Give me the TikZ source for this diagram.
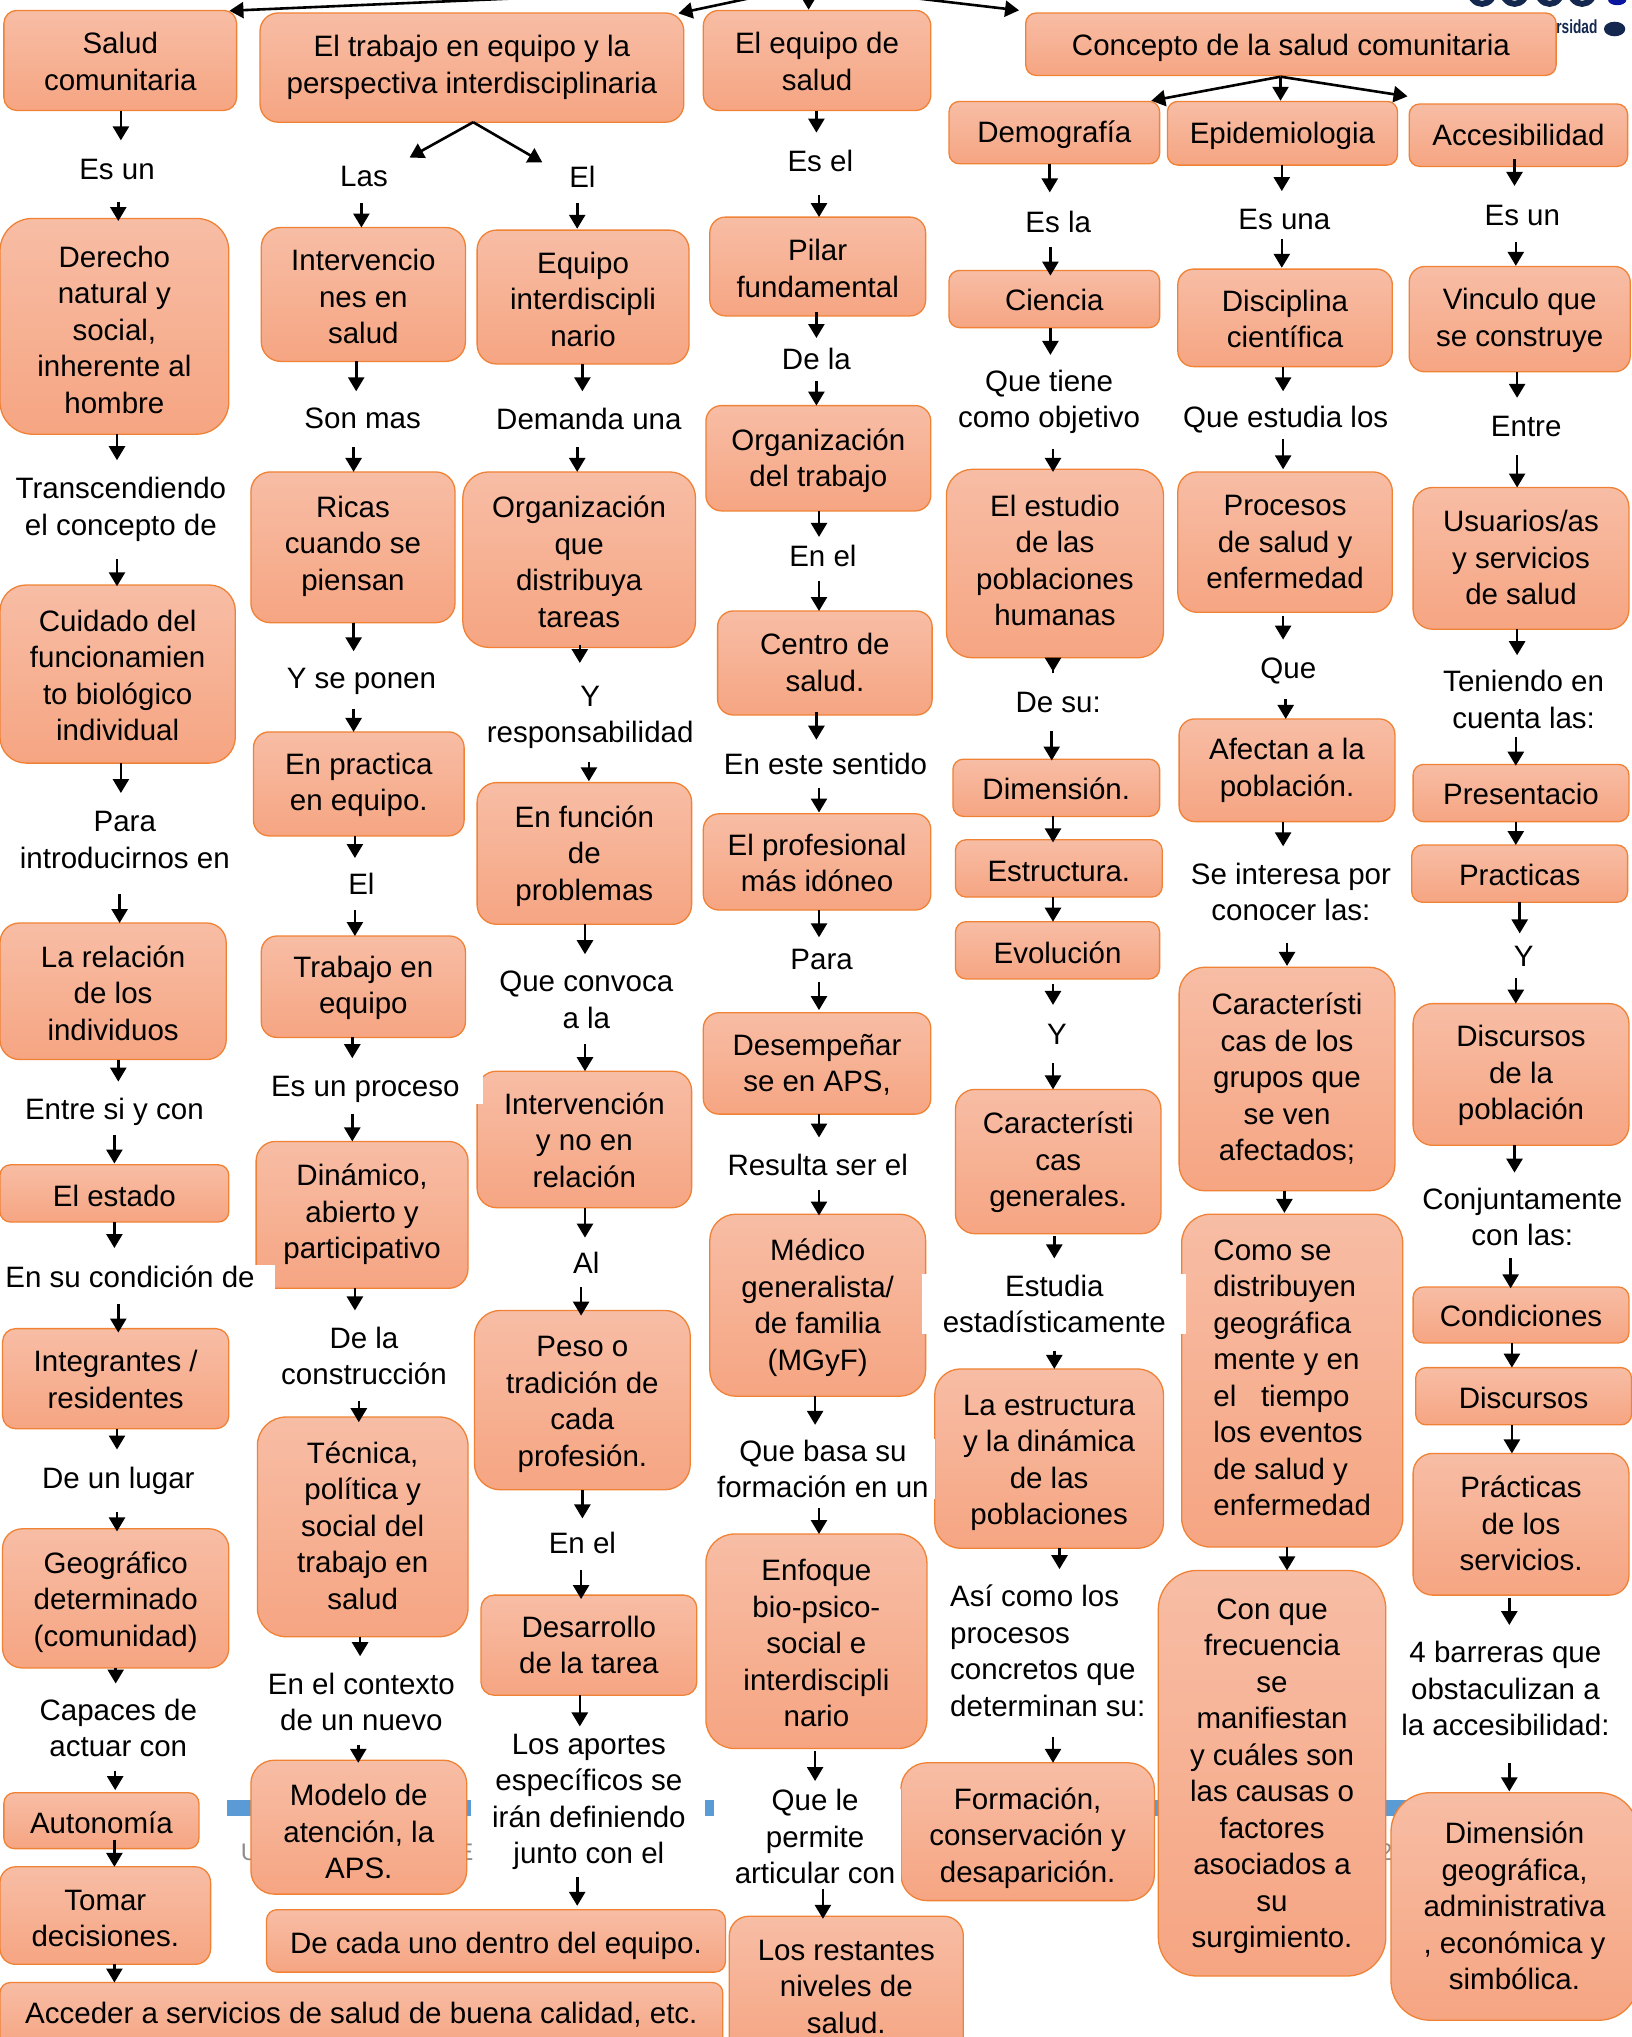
\documentclass[tikz,border=0pt]{standalone}
\usepackage{fontspec}
\setmainfont{Liberation Sans}
\usetikzlibrary{arrows.meta,calc}
\definecolor{boxtop}{HTML}{F7BDA5}
\definecolor{boxbot}{HTML}{F6A582}
\definecolor{boxline}{HTML}{F08236}
\definecolor{barblue}{HTML}{5B9BD5}
\definecolor{navy}{HTML}{14284F}
\newcommand\mainfs{\fontsize{29.5bp}{36.5bp}\selectfont}
\newcount\nlines
\tikzset{
 tdy/.code={\pgfmathsetmacro\tht{\HHt+2.6*max(#1,0)}\pgfmathsetmacro\tdp{6.5+2.6*max(-(#1),0)}\tikzset{text height=\tht bp,text depth=\tdp bp}},
 boxst/.style={draw=boxline,line width=1.3bp,top color=boxtop,bottom color=boxbot,inner sep=0pt,align=center,font=\mainfs,text=black,tdy=0},
 lblst/.style={fill=white,inner xsep=6bp,inner ysep=1bp,align=center,font=\mainfs,text=black},
 arr/.style={draw=black,line width=2.6bp,-{Triangle[length=14bp,width=16bp]}}
}
% box: name,x1,y1,x2,y2,radius,text
\newcommand\bx[8][]{%
 \global\nlines=1 \setbox0=\hbox{\def\\{\global\advance\nlines by 1 }#8}%
 \pgfmathsetmacro\HHt{(\the\nlines-1)*36.5+21.5}%
 \pgfmathsetmacro\cxx{(#3+#5)/2}\pgfmathsetmacro\cyy{(#4+#6)/2}%
 \pgfmathsetmacro\wwd{(#5-#3)*1.3}\pgfmathsetmacro\hhd{(#6-#4)*1.3}\pgfmathsetmacro\rrd{#7*1.3}%
 \node[boxst,rounded corners=\rrd bp,minimum width=\wwd bp,minimum height=\hhd bp,#1] (#2) at (\cxx,\cyy) {#8};}
\newcommand\lbl[5][]{\node[lblst,#1] (#2) at (#3,#4) {#5};}
% arrow from node a south to node b north along x, between y1 and y2
\newcommand\arw[5]{%
 \pgfpointanchor{#1}{south}\pgfgetlastxy{\xaa}{\yaa}%
 \pgfpointanchor{#2}{north}\pgfgetlastxy{\xbb}{\ybb}%
 \pgfmathsetmacro\sA{\yaa+#4*1.3*1.00375}%
 \pgfmathsetmacro\sB{-#5*1.3*1.00375-\ybb}%
 \draw[arr,shorten <=\sA pt,shorten >=\sB pt] (#1.south -| #3,0) -- (#2.north -| #3,0);}
\begin{document}
\begin{tikzpicture}[x=1.3bp,y=-1.3bp]
\useasboundingbox (0,0) rectangle (1255.38,1566.92);
\fill[white] (0,0) rectangle (1255.38,1566.92);
% background remnants
\fill[barblue] (174.6,1384.6) rectangle (362,1397);
\fill[barblue] (542,1384.6) rectangle (549,1397);
\fill[barblue] (888,1384.6) rectangle (896,1397);
\fill[barblue] (1066,1384.6) rectangle (1112,1397);
\node[text=black!45,font=\fontsize{24bp}{28bp}\selectfont,inner sep=0pt] (bgu) at (192,1425) {U};
\node[text=black!45,font=\fontsize{24bp}{28bp}\selectfont,inner sep=0pt] (bge) at (358,1425) {E};
\node[text=black!45,font=\fontsize{24bp}{28bp}\selectfont,inner sep=0pt] (bgd) at (1066,1425) {2};
% logo remnants
\foreach \lx in {1140,1165,1192,1217}{\draw[navy,line width=6bp] (\lx,-9) ellipse (10 and 12);}
\fill[blue!45!navy] (1244,0) ellipse (7 and 4);
\node[text=navy,font=\bfseries\fontsize{19bp}{22bp}\selectfont,inner sep=0pt,xscale=.72] (rsid) at (1213,20.5) {rsidad};
\fill[navy] (1242,22.3) ellipse (8.2 and 5.6);
% column 1
\bx[tdy=3]{salud}{3}{8}{182}{85}{10}{Salud\\comunitaria}
\bx[tdy=5]{derecho}{0}{168}{176}{334}{25}{Derecho\\natural y\\social,\\inherente al\\hombre}
\bx[tdy=3.5]{cuidado}{0}{450}{181}{587}{20}{Cuidado del\\funcionamien\\to biológico\\individual}
\bx[tdy=4]{relacion}{0}{710}{174}{815}{15}{La relación\\de los\\individuos}
\bx[tdy=4]{estado}{0}{896}{176}{940}{8}{El estado}
\bx[tdy=3]{integr}{2}{1022}{176}{1099}{10}{Integrantes /\\residentes}
\bx[tdy=3]{geogr}{2}{1176}{176}{1283}{15}{Geográfico\\determinado\\(comunidad)}
\bx[tdy=4]{autono}{3}{1379}{153}{1422}{8}{Autonomía}
\bx[tdy=4]{tomar}{0}{1436}{162}{1511}{12}{Tomar\\decisiones.}
\bx[tdy=1]{acceder}{0}{1525}{556}{1575}{8}{Acceder a servicios de salud de buena calidad, etc.}
% column 2
\bx{trabajo}{200}{10}{526}{94}{14}{El trabajo en equipo y la\\perspectiva interdisciplinaria}
\bx[tdy=4]{interv}{201}{175}{358}{278}{15}{Intervencio\\nes en\\salud}
\bx[tdy=4]{eqint}{367}{177}{530}{280}{15}{Equipo\\interdiscipli\\nario}
\bx[tdy=-1]{ricas}{193}{363}{350}{479}{15}{Ricas\\cuando se\\piensan}
\bx[tdy=4]{orgtar}{356}{363}{535}{498}{20}{Organización\\que\\distribuya\\tareas}
\bx[tdy=1]{practica}{195}{563}{357}{643}{12}{En practica\\en equipo.}
\bx[tdy=2]{funcion}{367}{602}{532}{711}{15}{En función\\de\\problemas}
\bx[tdy=1]{trabeq}{201}{720}{358}{798}{12}{Trabajo en\\equipo}
\bx[tdy=3]{intrel}{367}{824}{532}{929}{15}{Intervención\\y no en\\relación}
\bx{dinam}{197}{878}{360}{991}{15}{Dinámico,\\abierto y\\participativo}
\bx[tdy=1.5]{tecnica}{198}{1090}{360}{1259}{22}{Técnica,\\política y\\social del\\trabajo en\\salud}
\bx[tdy=6]{modelo}{193}{1354}{359}{1457}{18}{Modelo de\\atención, la\\APS.}
\bx[tdy=3]{peso}{365}{1008}{531}{1146}{20}{Peso o\\tradición de\\cada\\profesión.}
\bx[tdy=2]{desarr}{370}{1227}{536}{1304}{10}{Desarrollo\\de la tarea}
\bx[tdy=4]{decada}{205}{1469}{558}{1517}{8}{De cada uno dentro del equipo.}
% column 3
\bx[tdy=3]{eqsalud}{541}{8}{716}{85}{12}{El equipo de\\salud}
\bx[tdy=4]{pilar}{546}{167}{712}{243}{12}{Pilar\\fundamental}
\bx[tdy=2]{orgtrab}{543}{312}{716}{393}{12}{Organización\\del trabajo}
\bx[tdy=2]{centro}{552}{470}{717}{550}{12}{Centro de\\salud.}
\bx[tdy=3]{prof}{541}{626}{716}{700}{12}{El profesional\\más idóneo}
\bx[tdy=2]{desemp}{541}{779}{716}{857}{12}{Desempeñar\\se en APS,}
\bx[tdy=2]{medico}{546}{934}{712}{1074}{20}{Médico\\generalista/\\de familia\\(MGyF)}
\bx[tdy=4]{enfoque}{543}{1180}{713}{1345}{22}{Enfoque\\bio-psico-\\social e\\interdiscipli\\nario}
\bx[tdy=1]{restan}{561}{1474}{741}{1584}{15}{Los restantes\\niveles de\\salud.}
% column 4
\bx[tdy=3]{concepto}{789}{10}{1197}{58}{8}{Concepto de la salud comunitaria}
\bx[tdy=2]{demog}{730}{78}{892}{126}{8}{Demografía}
\bx[tdy=3]{ciencia}{730}{208}{892}{252}{8}{Ciencia}
\bx{estudio}{728}{361}{895}{506}{20}{El estudio\\de las\\poblaciones\\humanas}
\bx[tdy=3]{dimens}{733}{584}{892}{628}{8}{Dimensión.}
\bx[tdy=4]{estruc}{735}{646}{894}{690}{8}{Estructura.}
\bx[tdy=4]{evol}{735}{709}{892}{753}{8}{Evolución}
\bx[tdy=1]{generales}{735}{838}{893}{949}{15}{Característi\\cas\\generales.}
\bx[tdy=3]{estrdin}{719}{1053}{895}{1191}{20}{La estructura\\y la dinámica\\de las\\poblaciones}
\bx[tdy=5]{formac}{693}{1356}{888}{1462}{20}{Formación,\\conservación y\\desaparición.}
% column 5
\bx[tdy=2]{epidem}{898}{78}{1075}{127}{8}{Epidemiologia}
\bx[tdy=3]{discipl}{906}{207}{1071}{282}{12}{Disciplina\\científica}
\bx[tdy=2]{procesos}{906}{363}{1071}{471}{15}{Procesos\\de salud y\\enfermedad}
\bx{afectan}{907}{553}{1073}{632}{12}{Afectan a la\\población.}
\bx[tdy=1]{caract}{907}{744}{1073}{916}{20}{Característi\\cas de los\\grupos que\\se ven\\afectados;}
\bx[align=left]{como}{909}{934}{1079}{1190}{22}{Como se\\distribuyen\\geográfica\\mente y en\\el\ \ \ tiempo\\los eventos\\de salud y\\enfermedad}
\bx[tdy=2]{conque}{891}{1208}{1066}{1520}{30}{Con que\\frecuencia\\se\\manifiestan\\y cuáles son\\las causas o\\factores\\asociados a\\su\\surgimiento.}
% column 6
\bx[tdy=2]{acces}{1084}{80}{1252}{128}{8}{Accesibilidad}
\bx[tdy=1]{vinculo}{1084}{205}{1254}{286}{12}{Vinculo que\\se construye}
\bx[tdy=2]{usuarios}{1087}{375}{1253}{484}{15}{Usuarios/as\\y servicios\\de salud}
\bx[tdy=3]{present}{1087}{588}{1253}{632}{8}{Presentacio}
\bx[tdy=3]{practs}{1086}{650}{1252}{694}{8}{Practicas}
\bx[tdy=1]{discur}{1087}{772}{1253}{881}{15}{Discursos\\de la\\población}
\bx[tdy=3]{condic}{1087}{990}{1253}{1033}{8}{Condiciones}
\bx[tdy=4]{discdos}{1089}{1052}{1255}{1096}{8}{Discursos}
\bx[tdy=2]{practserv}{1087}{1118}{1253}{1227}{15}{Prácticas\\de los\\servicios.}
\bx[tdy=2]{dimgeo}{1070}{1379}{1260}{1554}{30}{Dimensión\\geográfica,\\administrativa\\, económica y\\simbólica.}
% labels
\lbl{la}{90}{130}{Es un}
\lbl{lb}{93}{392}{Transcendiendo\\el concepto de}
\lbl{lc}{96}{646}{Para\\introducirnos en}
\lbl{ld}{88}{855}{Entre si y con}
\lbl[inner xsep=20bp]{le}{100}{982}{En su condición de}
\lbl{lf}{91}{1139}{De un lugar}
\lbl{lg}{91}{1329}{Capaces de\\actuar con}
\lbl{lh}{280}{136}{Las}
\lbl{li}{448}{136}{El}
\lbl{lj}{279}{322}{Son mas}
\lbl{lk}{453}{322}{Demanda una}
\lbl{ll}{278}{524}{Y se ponen}
\lbl{lm}{454}{552}{Y\\responsabilidad}
\lbl{ln}{278}{680}{El}
\lbl{lo}{451}{769}{Que convoca\\a la}
\lbl[minimum width=236bp]{lp}{281}{838}{Es un proceso}
\lbl{lq}{451}{971}{Al}
\lbl{lr}{280}{1043}{De la\\construcción}
\lbl{ls}{278}{1309}{En el contexto\\de un nuevo}
\lbl{lt}{448}{1187}{En el}
\lbl{lu}{453}{1386}{Los aportes\\específicos se\\irán definiendo\\junto con el}
\lbl{ma}{631}{124}{Es el}
\lbl{mb}{628}{276}{De la}
\lbl{mc}{633}{428}{En el}
\lbl{md}{635}{588}{En este sentido}
\lbl{me}{632}{738}{Para}
\lbl{mf}{629}{896}{Resulta ser el}
\lbl{mg}{633}{1130}{Que basa su\\formación en un}
\lbl{mh}{627}{1413}{Que le\\permite\\articular con}
\lbl{na}{814}{171}{Es la}
\lbl{nb}{807}{309}{Que tiene\\como objetivo}
\lbl{nc}{814}{540}{De su:}
\lbl{nd}{813}{796}{Y}
\lbl[minimum width=264bp]{ne}{811}{1003}{Estudia\\estadísticamente}
\lbl[align=left]{nf}{806}{1270}{Así como los\\procesos\\concretos que\\determinan su:}
\lbl{oa}{988}{169}{Es una}
\lbl{ob}{989}{323}{Que estudia los}
\lbl{oc}{991}{516}{Que}
\lbl{od}{993}{686}{Se interesa por\\conocer las:}
\lbl{pa}{1171}{166}{Es un}
\lbl{pb}{1174}{328}{Entre}
\lbl{pc}{1172}{538}{Teniendo en\\cuenta las:}
\lbl{pd}{1172}{736}{Y}
\lbl{pe}{1171}{936}{Conjuntamente\\con las:}
\lbl{pf}{1158}{1299}{4 barreras que\\obstaculizan a\\la accesibilidad:}
% top arrows from off-page source
\coordinate (topsrc) at (622,-11);
\draw[arr] (topsrc) -- ([xshift=-7.8bp,yshift=-1bp]salud.north east);
\draw[arr] (topsrc) -- ([xshift=-6bp,yshift=-1bp]trabajo.north east);
\draw[arr] (topsrc) -- (eqsalud.north -| 622,0);
\draw[arr] (topsrc) -- ([xshift=-6bp,yshift=2bp]concepto.north west);
% branch arrows
\coordinate (trsrc) at (364,94);
\draw[arr] (trsrc) -- ($(lh.north east)+(12,-6)$);
\draw[arr] (trsrc) -- ($(li.north west)+(-16,-2)$);
\coordinate (cosrc) at (985,59);
\draw[arr] (cosrc) -- ([xshift=-9bp]demog.north east);
\draw[arr] (cosrc) -- (epidem.north -| 985,0);
\draw[arr] (cosrc) -- ([xshift=-1bp,yshift=7bp]acces.north west);
% column 1 arrows
\arw{salud}{la}{93}{85}{108}
\arw{la}{derecho}{91}{155}{170}
\arw{derecho}{lb}{90}{334}{354}
\arw{lb}{cuidado}{90}{430}{451}
\arw{cuidado}{lc}{93}{587}{610}
\arw{lc}{relacion}{92}{688}{710}
\arw{relacion}{ld}{91}{815}{832}
\arw{ld}{estado}{88}{873}{895}
\arw{estado}{le}{88}{940}{960}
\arw{le}{integr}{91}{1003}{1025}
\arw{integr}{lf}{90}{1099}{1115}
\arw{lf}{geogr}{90}{1163}{1178}
\arw{geogr}{lg}{89}{1283}{1295}
\arw{lg}{autono}{88.6}{1362}{1377}
\arw{autono}{tomar}{88}{1415}{1436}
\arw{tomar}{acceder}{88}{1511}{1525}
% column 2 arrows
\arw{lh}{interv}{278}{156}{175}
\arw{li}{eqint}{444}{156}{176}
\arw{interv}{lj}{274}{278}{301}
\arw{eqint}{lk}{448}{280}{301}
\arw{lj}{ricas}{272}{344}{363}
\arw{lk}{orgtar}{444}{344}{363}
\arw{ricas}{ll}{272}{479}{501}
\arw{orgtar}{lm}{446}{496}{510}
\arw{ll}{practica}{272}{545}{563}
\arw{lm}{funcion}{453}{586}{601}
\arw{practica}{ln}{273}{643}{660}
\arw{funcion}{lo}{450}{711}{734}
\arw{ln}{trabeq}{273}{700}{720}
\arw{lo}{intrel}{450}{803}{824}
\arw{trabeq}{lp}{271}{798}{814}
\arw{intrel}{lq}{450}{929}{952}
\arw{lp}{dinam}{271}{857}{878}
\arw{lq}{peso}{447}{990}{1012}
\arw{dinam}{lr}{273}{991}{1008}
\arw{lr}{tecnica}{276}{1078}{1094}
\arw{tecnica}{ls}{277}{1259}{1274}
\arw{ls}{modelo}{275.6}{1342}{1356}
\arw{peso}{lt}{448}{1146}{1168}
\arw{lt}{desarr}{447}{1208}{1230}
\arw{desarr}{lu}{446}{1304}{1328}
\arw{lu}{decada}{444}{1444}{1466}
% column 3 arrows
\arw{eqsalud}{ma}{628}{85}{102}
\arw{ma}{pilar}{630}{150}{167}
\arw{pilar}{mb}{628}{240}{260}
\arw{mb}{orgtrab}{628}{293}{312}
\arw{orgtrab}{mc}{630}{393}{413}
\arw{mc}{centro}{630}{447}{470}
\arw{centro}{md}{628}{548}{569}
\arw{md}{prof}{630}{606}{625}
\arw{prof}{me}{630}{700}{721}
\arw{me}{desemp}{630}{755}{777}
\arw{desemp}{mf}{630}{857}{875}
\arw{mf}{medico}{630}{915}{935}
\arw{medico}{mg}{627}{1074}{1096}
\arw{mg}{enfoque}{630}{1160}{1180}
\arw{enfoque}{mh}{627}{1347}{1370}
\arw{mh}{restan}{633}{1453}{1476}
% column 4 arrows
\arw{demog}{na}{807.5}{126}{148}
\arw{na}{ciencia}{808}{190}{212}
\arw{ciencia}{nb}{808}{252}{273}
\arw{nb}{estudio}{810}{345}{363}
\arw{estudio}{nc}{810}{495}{516.6}
\arw{nc}{dimens}{809}{562}{585}
\arw{dimens}{estruc}{810}{628}{648}
\arw{estruc}{evol}{810}{690}{709}
\arw{evol}{nd}{810}{757}{773}
\arw{nd}{generales}{810}{818}{838}
\arw{generales}{ne}{811}{951}{968}
\arw{ne}{estrdin}{811}{1039}{1053}
\arw{estrdin}{nf}{815}{1191}{1207}
\arw{nf}{formac}{810}{1336}{1356}
% column 5 arrows
\arw{epidem}{oa}{986}{127}{147}
\arw{oa}{discipl}{986}{184}{206}
\arw{discipl}{ob}{987}{282}{301}
\arw{ob}{procesos}{987}{338}{361}
\arw{procesos}{oc}{987}{474}{492}
\arw{oc}{afectan}{989}{538}{553}
\arw{afectan}{od}{987}{632}{651}
\arw{od}{caract}{990}{725}{743}
\arw{caract}{como}{988}{916}{933}
\arw{como}{conque}{990}{1190}{1208}
% column 6 arrows
\arw{acces}{pa}{1165}{122.5}{143}
\arw{pa}{vinculo}{1166}{186}{204.5}
\arw{vinculo}{pb}{1167}{286}{306}
\arw{pb}{usuarios}{1167}{350}{375}
\arw{usuarios}{pc}{1167}{484}{504}
\arw{pc}{present}{1166}{567}{589}
\arw{present}{practs}{1166}{632}{650}
\arw{practs}{pd}{1169}{694}{718}
\arw{pd}{discur}{1166}{752}{772}
\arw{discur}{pe}{1165}{881}{902}
\arw{pe}{condic}{1162}{968}{991}
\arw{condic}{discdos}{1163}{1033}{1052}
\arw{discdos}{practserv}{1163}{1096}{1118}
\arw{practserv}{pf}{1161}{1229}{1250}
\arw{pf}{dimgeo}{1161}{1356}{1378}
\end{tikzpicture}
\end{document}
